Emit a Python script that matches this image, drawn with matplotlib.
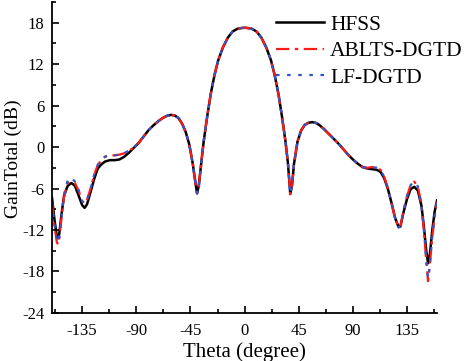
import numpy as np
import matplotlib
matplotlib.use("Agg")
import matplotlib.pyplot as plt
from matplotlib.ticker import MultipleLocator

plt.rcParams['font.family'] = ['Liberation Serif', 'DejaVu Serif']
plt.rcParams['axes.unicode_minus'] = False

# Data
theta = [-160, -158, -156, -155, -154, -152, -150, -147, -144, -141, -138, -135, -133, -131,
         -128, -125, -122, -119, -116, -112, -108, -104, -100, -96, -92, -88, -84, -80, -76,
         -72, -68, -64, -61, -58, -55, -52, -49, -46, -43, -41, -39.5, -38, -36, -34, -31,
         -28, -25, -22, -18, -14, -10, -6, -3, 0, 3, 6, 10, 14, 18, 22, 25, 28, 31, 34, 36,
         38, 39.5, 41, 44, 47, 50, 53, 56, 59, 62, 66, 70, 74, 78, 82, 86, 90, 94, 98, 102,
         106, 110, 113, 116, 119, 122, 125, 128, 129.5, 132, 135, 138, 141, 144, 147, 149,
         151, 152.5, 154, 156, 158, 160]

hfss = [-7.4, -10.5, -13.0, -13.2, -12.5, -9.5, -7.0, -5.6, -5.2, -5.6, -7.0, -8.4, -8.8, -8.3,
        -6.5, -4.6, -3.1, -2.5, -2.1, -1.9, -1.9, -1.8, -1.4, -0.8, -0.1, 0.6, 1.5, 2.4, 3.1,
        3.7, 4.2, 4.55, 4.65, 4.55, 4.2, 3.4, 2.2, 0.4, -2.5, -5.0, -6.7, -5.5, -2.3, 0.8, 4.5,
        7.8, 10.4, 12.5, 14.4, 15.8, 16.7, 17.1, 17.2, 17.25, 17.2, 17.1, 16.7, 15.8, 14.4, 12.5, 10.4, 7.8, 4.5, 0.8, -2.3,
        -6.8, -5.5, -2.5, 0.8, 2.4, 3.2, 3.5, 3.6, 3.5, 3.2, 2.6, 1.9, 1.2, 0.5, -0.3, -1.1, -1.8, -2.4, -2.9, -3.1,
        -3.2, -3.3, -3.6, -4.5, -6.0, -8.0, -10.2, -11.6, -11.5, -9.5, -7.5, -6.1, -5.75, -6.3, -8.5, -11.5,
        -15.0, -16.8, -15.5, -12.0, -9.3, -7.7]

ablts = [-8.2, -11.5, -13.8, -14.1, -13.2, -10.0, -7.2, -5.2, -5.0, -5.2, -6.3, -7.8, -8.2, -7.7,
         -6.0, -4.0, -2.6, -1.9, -1.4, -1.2, -1.2, -1.1, -0.9, -0.5, -0.1, 0.6, 1.5, 2.4, 3.1,
         3.7, 4.2, 4.55, 4.65, 4.55, 4.2, 3.4, 2.2, 0.4, -2.5, -5.0, -6.7, -5.5, -2.3, 0.8, 4.5,
         7.8, 10.4, 12.5, 14.4, 15.8, 16.7, 17.1, 17.2, 17.25, 17.2, 17.1, 16.7, 15.8, 14.4, 12.5, 10.4, 7.8, 4.5, 0.8, -2.3,
         -6.8, -5.5, -2.5, 0.8, 2.4, 3.2, 3.5, 3.6, 3.5, 3.2, 2.6, 1.9, 1.2, 0.5, -0.3, -1.1, -1.8, -2.4, -2.9, -3.0,
         -2.9, -3.0, -3.3, -4.3, -5.9, -8.0, -10.2, -11.6, -11.5, -9.3, -7.1, -5.5, -5.0, -5.7, -8.3, -12.0,
         -16.5, -19.4, -17.0, -13.0, -10.0, -7.9]

lfdgtd = [-8.0, -11.2, -13.6, -13.8, -13.0, -9.8, -6.8, -4.8, -4.4, -5.0, -6.2, -7.8, -8.2, -7.7,
          -6.0, -4.0, -2.6, -1.9, -1.4, -1.2, -1.2, -1.1, -0.9, -0.5, -0.1, 0.6, 1.5, 2.4, 3.1,
          3.7, 4.2, 4.55, 4.65, 4.55, 4.2, 3.4, 2.2, 0.4, -2.5, -5.0, -6.7, -5.5, -2.3, 0.8, 4.5,
          7.8, 10.4, 12.5, 14.4, 15.8, 16.7, 17.1, 17.2, 17.25, 17.2, 17.1, 16.7, 15.8, 14.4, 12.5, 10.4, 7.8, 4.5, 0.8, -2.3,
          -6.8, -5.5, -2.5, 0.8, 2.4, 3.2, 3.5, 3.6, 3.5, 3.2, 2.6, 1.9, 1.2, 0.5, -0.3, -1.1, -1.8, -2.4, -2.9, -3.0,
          -2.9, -3.0, -3.3, -4.3, -5.9, -8.0, -10.2, -11.6, -11.5, -9.3, -7.1, -5.5, -5.0, -5.7, -8.3, -12.0,
          -16.2, -19.0, -17.0, -13.0, -10.0, -7.9]

fig = plt.figure(figsize=(4.65, 3.61), dpi=100)
ax = fig.add_axes([0.112, 0.133, 0.828, 0.862])

ax.plot(theta, hfss, color='black', lw=1.8, label='HFSS')
ax.plot(theta, ablts, color='#ff1a1a', lw=1.6, ls=(0, (6, 2.5, 1.5, 2.5)), label='ABLTS-DGTD')
ax.plot(theta, lfdgtd, color='#3355cc', lw=1.6, ls=(0, (1.6, 3.4)), label='LF-DGTD')

ax.set_xlim(-160, 160)
ax.set_ylim(-24, 21)
ax.set_xticks([-135, -90, -45, 0, 45, 90, 135])
ax.set_yticks([-24, -18, -12, -6, 0, 6, 12, 18])
ax.xaxis.set_minor_locator(MultipleLocator(22.5))
ax.yaxis.set_minor_locator(MultipleLocator(3))
ax.tick_params(which='both', direction='in', labelsize=12, width=1.2)
ax.tick_params(which='major', length=5)
ax.tick_params(axis='x', which='major', pad=7)
ax.tick_params(axis='y', which='major', pad=5.5)
ax.tick_params(which='minor', length=3)
ax.spines['top'].set_visible(False)
ax.spines['right'].set_visible(False)
ax.spines['left'].set_linewidth(1.3)
ax.spines['bottom'].set_linewidth(1.3)

ax.set_xlabel('Theta (degree)', fontsize=15)
ax.set_ylabel('GainTotal (dB)', fontsize=14)
ax.xaxis.set_label_coords(0.5, -0.093)
ax.yaxis.set_label_coords(-0.078, 0.495)

ax.legend(loc='upper right', frameon=False, fontsize=15.5, handlelength=2.2,
          borderaxespad=0, borderpad=0.1, labelspacing=0.3, handletextpad=0.3,
          bbox_to_anchor=(1.0, 0.965), bbox_transform=fig.transFigure)

fig.savefig('out.png', dpi=100)
